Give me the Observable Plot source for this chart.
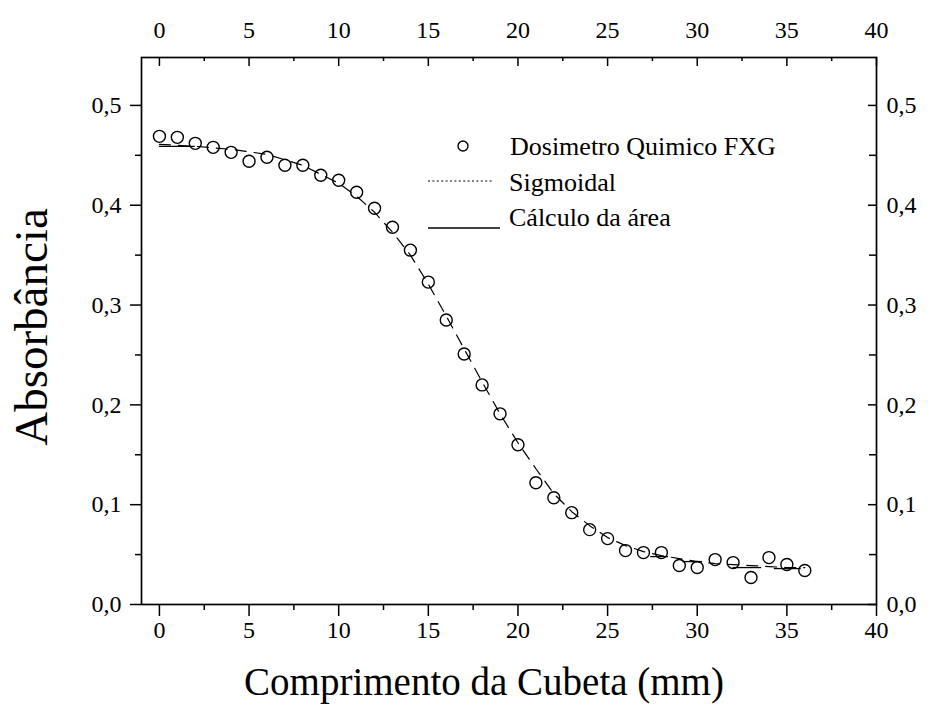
<!DOCTYPE html>
<html><head><meta charset="utf-8">
<script src="https://cdn.jsdelivr.net/npm/d3@7"></script>
<script src="https://cdn.jsdelivr.net/npm/@observablehq/plot@0.6"></script>
<style>
body{margin:0;background:#fff}
#chart{position:relative;width:928px;height:706px}
</style>
</head><body><div id="chart"></div>
<script>
// ---- data ----
const comprimento = [0,1,2,3,4,5,6,7,8,9,10,11,12,13,14,15,16,17,18,19,20,21,22,23,24,25,26,27,28,29,30,31,32,33,34,35,36];
const absorbancia = [0.469,0.468,0.462,0.458,0.453,0.444,0.448,0.440,0.440,0.430,0.425,0.413,0.397,0.378,0.355,0.323,0.285,0.251,0.220,0.191,0.160,0.122,0.107,0.092,0.075,0.066,0.054,0.052,0.052,0.039,0.037,0.045,0.042,0.027,0.047,0.040,0.034];
const sigmoidX = [0,2,4,6,8,10,11,12,13,14,15,16,17,18,19,20,21,22,23,24,25,26,27,28,29,30,31,32,33,34,35,36];
const sigmoidY = [0.461,0.459,0.456,0.451,0.440,0.422,0.409,0.393,0.373,0.350,0.321,0.289,0.256,0.223,0.191,0.162,0.136,0.111,0.093,0.079,0.067,0.059,0.053,0.049,0.046,0.043,0.041,0.040,0.039,0.038,0.037,0.037];
const areaX1 = [0, 27.4, 29.2, 32.0, 34.3];
const areaX2 = [2, 28.4, 30.3, 33.6, 35.8];
const areaY  = [0.459, 0.048, 0.043, 0.037, 0.036];
const xTicks = [0,5,10,15,20,25,30,35,40];
const xMinor = [2.5,7.5,12.5,17.5,22.5,27.5,32.5,37.5];
const yTicks = [0,0.1,0.2,0.3,0.4,0.5];
const yMinor = [0.05,0.15,0.25,0.35,0.45];
const xLabel = "Comprimento da Cubeta (mm)";
const yLabel = "Absorbância";
const legendLabels = ["Dosimetro Quimico FXG","Sigmoidal","Cálculo da área"];

// ---- layout ----
const W = 928, H = 706, mL = 141, mR = 52, mT = 57, mB = 102;
const plotW = W - mL - mR, plotH = H - mT - mB;
const fmt = d => d.toFixed(1).replace(".", ",");
const serif = "'Liberation Serif', 'Times New Roman', serif";
const points = comprimento.map((x, i) => ({x, y: absorbancia[i]}));
const fit = sigmoidX.map((x, i) => ({x, y: sigmoidY[i]}));
const segs = areaX1.map((x1, i) => ({x1, x2: areaX2[i], y: areaY[i]}));
const tickFs = 24;

const plot = Plot.plot({
  width: W, height: H,
  marginLeft: mL, marginRight: mR, marginTop: mT, marginBottom: mB,
  x: {domain: [-1, 40]},
  y: {domain: [0, 0.548]},
  style: {fontFamily: serif, background: "white", color: "black"},
  marks: [
    Plot.line(fit, {x: "x", y: "y", stroke: "black", strokeWidth: 1.2, strokeDasharray: "11,8"}),
    Plot.ruleY(segs, {x1: "x1", x2: "x2", y: "y", stroke: "black", strokeWidth: 1.3}),
    Plot.dot(points, {x: "x", y: "y", r: 6, stroke: "black", strokeWidth: 1.4, fill: "none"}),
    Plot.frame({stroke: "black", strokeWidth: 1.7}),
    // bottom axis (outward ticks)
    Plot.axisX(xTicks, {anchor: "bottom", tickSize: 12, tickPadding: 4, fontSize: tickFs, label: null, strokeWidth: 1.5}),
    Plot.axisX(xMinor, {anchor: "bottom", tickSize: 6, tickFormat: () => "", label: null, strokeWidth: 1.5}),
    // top axis (inward ticks)
    Plot.axisX(xTicks, {anchor: "top", tickSize: 0, tickPadding: 20, fontSize: tickFs, label: null}),
    Plot.tickX(xTicks, {x: d => d, insetBottom: plotH - 9, stroke: "black", strokeWidth: 1.5}),
    Plot.tickX(xMinor, {x: d => d, insetBottom: plotH - 4, stroke: "black", strokeWidth: 1.5}),
    // left axis (outward ticks)
    Plot.axisY(yTicks, {anchor: "left", tickSize: 11, tickPadding: 9, fontSize: tickFs, tickFormat: fmt, label: null, strokeWidth: 1.5}),
    Plot.axisY(yMinor, {anchor: "left", tickSize: 6, tickFormat: () => "", label: null, strokeWidth: 1.5}),
    // right axis (inward ticks)
    Plot.axisY(yTicks, {anchor: "right", tickSize: 0, tickPadding: 10, fontSize: tickFs, tickFormat: fmt, label: null}),
    Plot.tickY(yTicks, {y: d => d, insetLeft: plotW - 8, stroke: "black", strokeWidth: 1.5}),
    Plot.tickY(yMinor, {y: d => d, insetLeft: plotW - 7, stroke: "black", strokeWidth: 1.5}),
    // axis titles
    Plot.text([xLabel], {frameAnchor: "bottom", textAnchor: "middle", lineAnchor: "middle", dx: -25, dy: 78, fontSize: 39, fill: "black"}),
    Plot.text([yLabel], {frameAnchor: "left", textAnchor: "middle", lineAnchor: "middle", dx: -110, dy: -4, rotate: -90, fontSize: 47, fill: "black"})
  ]
});
document.getElementById("chart").appendChild(plot);

// ---- legend inside the plot area ----
const svg = d3.select(plot);
const lg = svg.append("g").attr("font-family", serif).attr("font-size", 26).attr("fill", "black").attr("text-anchor", "start");
lg.append("circle").attr("cx", 463).attr("cy", 146).attr("r", 5).attr("fill", "none").attr("stroke", "black").attr("stroke-width", 1.4);
lg.append("line").attr("x1", 428).attr("x2", 493).attr("y1", 181).attr("y2", 181).attr("stroke", "black").attr("stroke-width", 1.2).attr("stroke-dasharray", "2,2.4");
lg.append("line").attr("x1", 428).attr("x2", 500).attr("y1", 228).attr("y2", 228).attr("stroke", "black").attr("stroke-width", 1.3);
const baselines = [155, 191, 226];
const starts = [510, 509, 509];
legendLabels.forEach((t, i) => {
  lg.append("text").attr("x", starts[i]).attr("y", baselines[i]).attr("text-anchor", "start").text(t);
});
</script>
</body></html>
